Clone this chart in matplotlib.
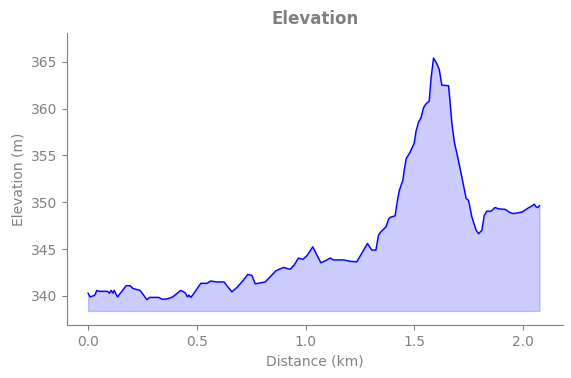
import matplotlib

matplotlib.use("Agg")

from matplotlib import pyplot as plt

# distance along the route (km) and elevation (m)
distance_km = [
    0.000, 0.009, 0.022, 0.031, 0.040, 0.049, 0.089, 0.098, 0.106, 0.114,
    0.120, 0.135, 0.175, 0.193, 0.206, 0.239, 0.255, 0.270, 0.282, 0.325,
    0.340, 0.365, 0.389, 0.426, 0.446, 0.457, 0.463, 0.472, 0.484, 0.518,
    0.546, 0.564, 0.592, 0.625, 0.645, 0.661, 0.684, 0.714, 0.734, 0.753,
    0.768, 0.814, 0.864, 0.898, 0.929, 0.947, 0.967, 0.987, 1.006, 1.033,
    1.048, 1.070, 1.090, 1.113, 1.128, 1.174, 1.205, 1.235, 1.258, 1.284,
    1.304, 1.323, 1.335, 1.346, 1.370, 1.381, 1.389, 1.411, 1.422, 1.431,
    1.447, 1.453, 1.462, 1.480, 1.499, 1.508, 1.519, 1.530, 1.542, 1.553,
    1.568, 1.577, 1.588, 1.603, 1.614, 1.626, 1.657, 1.664, 1.672, 1.683,
    1.701, 1.718, 1.738, 1.749, 1.764, 1.784, 1.795, 1.810, 1.821, 1.833,
    1.852, 1.871, 1.887, 1.917, 1.940, 1.955, 1.994, 2.024, 2.040, 2.051,
    2.060, 2.068, 2.075,
]
elevation_m = [
    340.3, 339.9, 340.0, 340.1, 340.6, 340.5, 340.5, 340.3, 340.6, 340.3,
    340.6, 339.9, 341.1, 341.1, 340.8, 340.6, 340.1, 339.6, 339.85, 339.85,
    339.65, 339.7, 339.9, 340.6, 340.35, 339.9, 340.1, 339.85, 340.2, 341.35,
    341.35, 341.6, 341.5, 341.5, 340.9, 340.45, 340.9, 341.7, 342.3, 342.2,
    341.3, 341.5, 342.7, 343.05, 342.85, 343.3, 344.05, 343.9, 344.3, 345.25,
    344.55, 343.55, 343.75, 344.05, 343.85, 343.85, 343.7, 343.65, 344.55, 345.6,
    344.9, 344.9, 346.5, 346.85, 347.4, 348.2, 348.4, 348.55, 350.2, 351.3,
    352.35, 353.4, 354.65, 355.35, 356.3, 357.65, 358.55, 359.0, 360.1, 360.5,
    360.8, 363.35, 365.4, 364.8, 364.2, 362.5, 362.45, 360.7, 358.5, 356.5,
    354.6, 352.7, 350.4, 350.2, 348.45, 347.0, 346.65, 347.0, 348.6, 349.05,
    349.05, 349.45, 349.3, 349.25, 348.9, 348.8, 348.95, 349.4, 349.6, 349.8,
    349.5, 349.45, 349.65,
]
fill_base_m = 338.4

TEXT_GREY = "#808080"

fig = plt.figure(figsize=(5.71, 3.78), dpi=100)
ax = fig.add_axes([0.1173, 0.1402, 0.8682, 0.7733])

ax.fill_between(distance_km, elevation_m, fill_base_m, color="blue", alpha=0.2)
ax.plot(distance_km, elevation_m, color="blue", linewidth=1.0)

ax.set_xlim(-0.097, 2.182)
ax.set_ylim(336.9, 368.1)
ax.set_yticks([340, 345, 350, 355, 360, 365])
ax.set_xticks([0.0, 0.5, 1.0, 1.5, 2.0])

ax.set_title("Elevation", color=TEXT_GREY, fontsize=12, fontweight="bold")
ax.set_xlabel("Distance (km)", color=TEXT_GREY, fontsize=10)
ax.set_ylabel("Elevation (m)", color=TEXT_GREY, fontsize=10)

for side in ("top", "right"):
    ax.spines[side].set_visible(False)
for side in ("left", "bottom"):
    ax.spines[side].set_color(TEXT_GREY)
ax.tick_params(colors=TEXT_GREY, labelsize=10)

fig.savefig("out.png", dpi=100)
